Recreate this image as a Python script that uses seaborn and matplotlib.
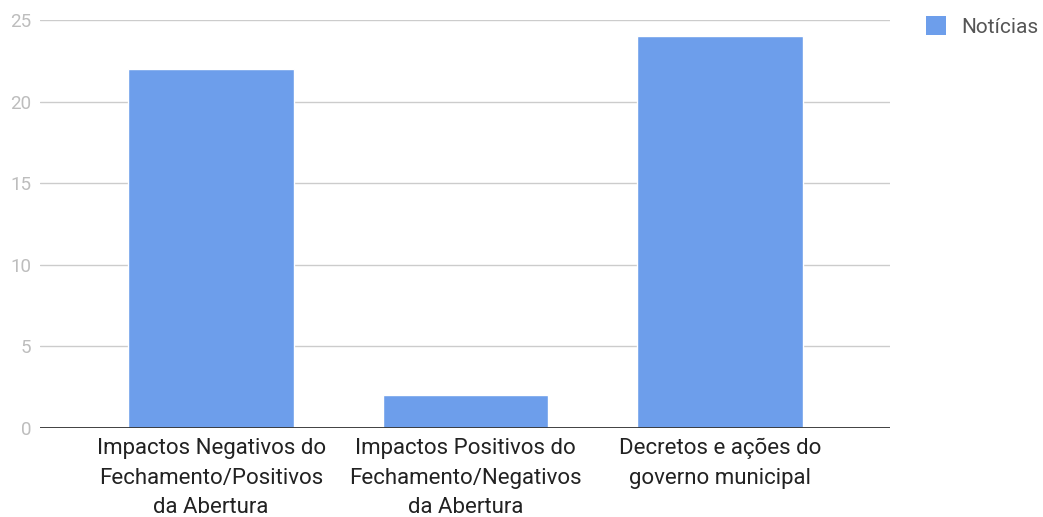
import matplotlib
matplotlib.use("Agg")
import matplotlib.pyplot as plt
import seaborn as sns
import pandas as pd
from matplotlib.patches import Patch

# dados
categorias = [
    "Impactos Negativos do\nFechamento/Positivos\nda Abertura",
    "Impactos Positivos do\nFechamento/Negativos\nda Abertura",
    "Decretos e ações do\ngoverno municipal",
]
noticias = [22, 2, 24]
serie = "Notícias"
cor = "#6d9eeb"

df = pd.DataFrame({"categoria": categorias, "valor": noticias})

sns.set_theme(style="white")
plt.rcParams["font.family"] = ["Roboto", "DejaVu Sans"]

fig = plt.figure(figsize=(10.43, 5.17), dpi=100)
ax = fig.add_axes([0.0384, 0.172, 0.815, 0.789])

sns.barplot(data=df, x="categoria", y="valor", color=cor, width=0.65,
            saturation=1, ax=ax, zorder=3)

ax.set_ylim(0, 25)
ax.set_yticks([0, 5, 10, 15, 20, 25])
ax.set_xlim(-0.672, 2.668)
ax.yaxis.grid(True, color="#cccccc", linewidth=1, zorder=0)
ax.axhline(0, color="#333333", linewidth=1.3, zorder=4)
for s in ax.spines.values():
    s.set_visible(False)

ax.set_xlabel("")
ax.set_ylabel("")
ax.tick_params(axis="y", length=0, pad=6.5, labelsize=13.5, labelcolor="#bdbdbd")
ax.tick_params(axis="x", length=0, pad=7, labelsize=16, labelcolor="#222222")
for lbl in ax.get_xticklabels():
    lbl.set_linespacing(1.55)

fig.legend(handles=[Patch(facecolor=cor, edgecolor="none", label=serie)],
           loc="upper left", bbox_to_anchor=(0.8695, 1.005), frameon=False,
           fontsize=15, handlelength=1.0, handleheight=1.0, handletextpad=0.7,
           labelcolor="#555555")

fig.savefig("out.png", dpi=100)
